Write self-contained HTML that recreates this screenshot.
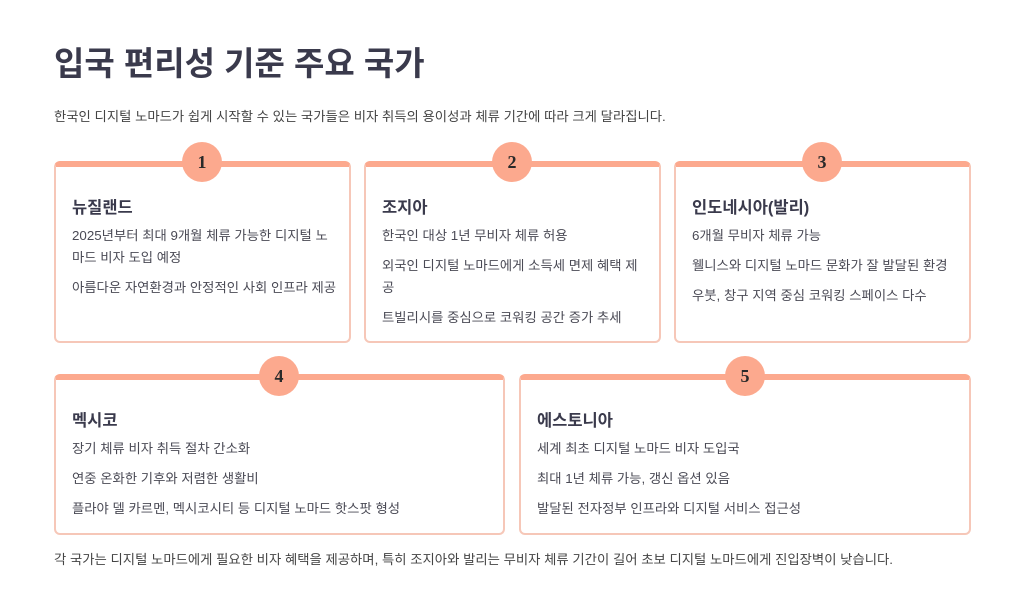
<!DOCTYPE html>
<html><head><meta charset="utf-8"><style>
*{margin:0;padding:0;box-sizing:border-box}
body{width:1024px;height:608px;background:#fff;font-family:"Liberation Sans","Noto Sans CJK KR",sans-serif;color:#3d3d4e;position:relative;overflow:hidden}
h1{position:absolute;left:54px;top:37px;font-size:33px;font-weight:700;color:#3a3a4c;letter-spacing:0px}
.sub{position:absolute;left:54px;top:106px;font-size:13.35px;color:#444}
.card{position:absolute;border:2px solid #f6c7b8;border-top:6px solid #fca98e;border-radius:6px;background:#fff;padding:27px 10px 0 16px}
.card h3{font-size:16.5px;font-weight:700;color:#3a3a4c;margin-bottom:7px}
.card p{font-size:13.35px;color:#4a4a55;line-height:22px;margin-bottom:8px}
.num{position:absolute;width:40px;height:40px;border-radius:50%;background:#fca98e;color:#2a2a2a;font-family:"Liberation Serif",serif;font-weight:700;font-size:18px;text-align:center;line-height:40px}
.foot{position:absolute;left:54px;top:549px;font-size:13.35px;color:#444}
</style></head><body>
<h1>입국 편리성 기준 주요 국가</h1>
<div class="sub">한국인 디지털 노마드가 쉽게 시작할 수 있는 국가들은 비자 취득의 용이성과 체류 기간에 따라 크게 달라집니다.</div>

<div class="card" style="left:54px;top:161px;width:297px;height:182px"><h3>뉴질랜드</h3><p>2025년부터 최대 9개월 체류 가능한 디지털 노<br>마드 비자 도입 예정</p><p>아름다운 자연환경과 안정적인 사회 인프라 제공</p></div>
<div class="card" style="left:364px;top:161px;width:297px;height:182px"><h3>조지아</h3><p>한국인 대상 1년 무비자 체류 허용</p><p>외국인 디지털 노마드에게 소득세 면제 혜택 제<br>공</p><p>트빌리시를 중심으로 코워킹 공간 증가 추세</p></div>
<div class="card" style="left:674px;top:161px;width:297px;height:182px"><h3>인도네시아(발리)</h3><p>6개월 무비자 체류 가능</p><p>웰니스와 디지털 노마드 문화가 잘 발달된 환경</p><p>우붓, 창구 지역 중심 코워킹 스페이스 다수</p></div>
<div class="card" style="left:54px;top:374px;width:451px;height:161px"><h3>멕시코</h3><p>장기 체류 비자 취득 절차 간소화</p><p>연중 온화한 기후와 저렴한 생활비</p><p>플라야 델 카르멘, 멕시코시티 등 디지털 노마드 핫스팟 형성</p></div>
<div class="card" style="left:519px;top:374px;width:452px;height:161px"><h3>에스토니아</h3><p>세계 최초 디지털 노마드 비자 도입국</p><p>최대 1년 체류 가능, 갱신 옵션 있음</p><p>발달된 전자정부 인프라와 디지털 서비스 접근성</p></div>

<div class="num" style="left:182px;top:142px">1</div>
<div class="num" style="left:492px;top:142px">2</div>
<div class="num" style="left:802px;top:142px">3</div>
<div class="num" style="left:259px;top:356px">4</div>
<div class="num" style="left:725px;top:356px">5</div>

<div class="foot">각 국가는 디지털 노마드에게 필요한 비자 혜택을 제공하며, 특히 조지아와 발리는 무비자 체류 기간이 길어 초보 디지털 노마드에게 진입장벽이 낮습니다.</div>
</body></html>
